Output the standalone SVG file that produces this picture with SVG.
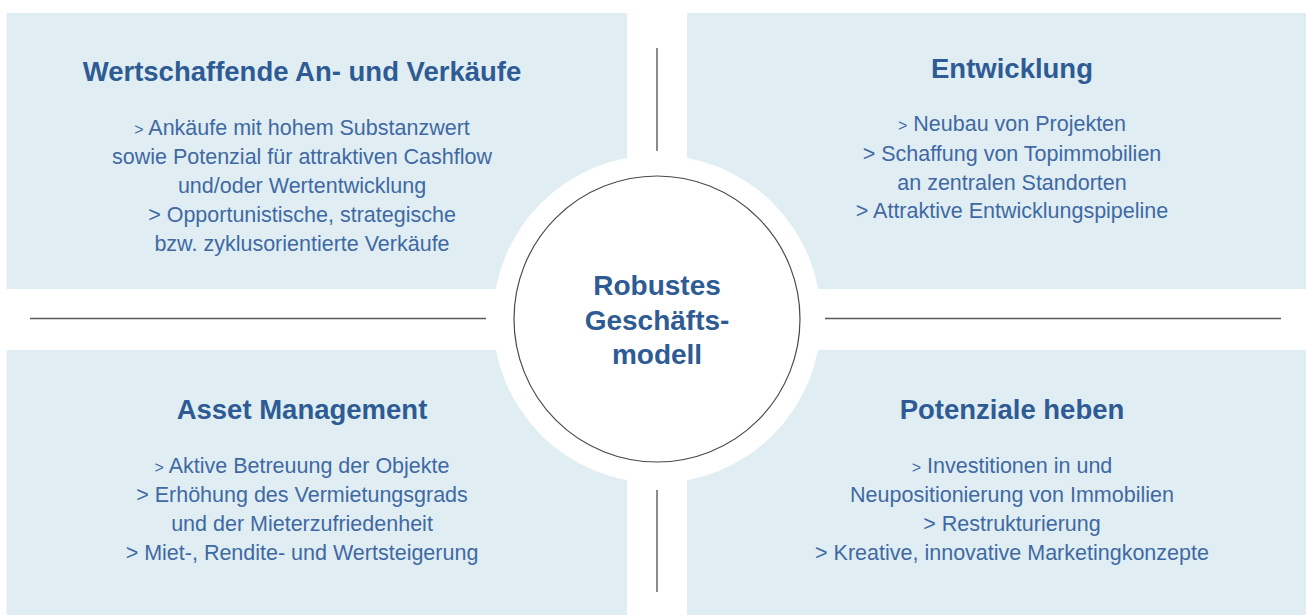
<svg xmlns="http://www.w3.org/2000/svg" width="1306" height="615" viewBox="0 0 1306 615">
  <style>
    .panel { fill: #e0eef3; }
    .title { font-family: "Liberation Sans", Arial, sans-serif; font-weight: bold; font-size: 27.5px; fill: #2e5b93; text-anchor: middle; }
    .body { font-family: "Liberation Sans", Arial, sans-serif; font-size: 21.5px; fill: #4069a3; text-anchor: middle; }
    .small { font-size: 16px; }
    .center { font-family: "Liberation Sans", Arial, sans-serif; font-weight: bold; font-size: 28px; fill: #2e5b93; text-anchor: middle; }
    .rule { stroke: #5a5a5a; stroke-width: 1.4; fill: none; }
  </style>

  <rect width="1306" height="615" fill="#ffffff"/>

  <!-- quadrant panels -->
  <g id="panel-acquisitions">
    <rect class="panel" x="6.5" y="13" width="620.5" height="276"/>
  </g>
  <g id="panel-development">
    <rect class="panel" x="687" y="13" width="619" height="276"/>
  </g>
  <g id="panel-asset-management">
    <rect class="panel" x="6.5" y="350" width="620.5" height="265"/>
  </g>
  <g id="panel-potentials">
    <rect class="panel" x="687" y="350" width="619" height="265"/>
  </g>

  <!-- separators between the quadrants -->
  <g id="connectors">
    <line class="rule" x1="30" y1="318.5" x2="486" y2="318.5"/>
    <line class="rule" x1="825" y1="318.5" x2="1281" y2="318.5"/>
    <line class="rule" x1="657" y1="48" x2="657" y2="151"/>
    <line class="rule" x1="657" y1="490" x2="657" y2="592"/>
  </g>

  <!-- central hub -->
  <g id="hub">
    <circle cx="657" cy="319" r="164" fill="#ffffff"/>
    <circle cx="657" cy="319" r="143" fill="#ffffff" stroke="#4a4a4a" stroke-width="1.2"/>
    <text class="center" x="657" y="295">Robustes</text>
    <text class="center" x="657" y="330">Geschäfts-</text>
    <text class="center" x="657" y="364">modell</text>
  </g>

  <!-- quadrant texts -->
  <g id="text-acquisitions">
    <text class="title" x="302" y="81">Wertschaffende An- und Verkäufe</text>
    <text class="body" x="302" y="135"><tspan class="small">&gt;</tspan> Ankäufe mit hohem Substanzwert</text>
    <text class="body" x="302" y="164">sowie Potenzial für attraktiven Cashflow</text>
    <text class="body" x="302" y="193">und/oder Wertentwicklung</text>
    <text class="body" x="302" y="222">&gt; Opportunistische, strategische</text>
    <text class="body" x="302" y="251">bzw. zyklusorientierte Verkäufe</text>
  </g>

  <g id="text-development">
    <text class="title" x="1012" y="78">Entwicklung</text>
    <text class="body" x="1012" y="131"><tspan class="small">&gt;</tspan> Neubau von Projekten</text>
    <text class="body" x="1012" y="161">&gt; Schaffung von Topimmobilien</text>
    <text class="body" x="1012" y="190">an zentralen Standorten</text>
    <text class="body" x="1012" y="218">&gt; Attraktive Entwicklungspipeline</text>
  </g>

  <g id="text-asset-management">
    <text class="title" x="302" y="419">Asset Management</text>
    <text class="body" x="302" y="473"><tspan class="small">&gt;</tspan> Aktive Betreuung der Objekte</text>
    <text class="body" x="302" y="502">&gt; Erhöhung des Vermietungsgrads</text>
    <text class="body" x="302" y="531">und der Mieterzufriedenheit</text>
    <text class="body" x="302" y="560">&gt; Miet-, Rendite- und Wertsteigerung</text>
  </g>

  <g id="text-potentials">
    <text class="title" x="1012" y="419">Potenziale heben</text>
    <text class="body" x="1012" y="473"><tspan class="small">&gt;</tspan> Investitionen in und</text>
    <text class="body" x="1012" y="502">Neupositionierung von Immobilien</text>
    <text class="body" x="1012" y="531">&gt; Restrukturierung</text>
    <text class="body" x="1012" y="560">&gt; Kreative, innovative Marketingkonzepte</text>
  </g>
</svg>
